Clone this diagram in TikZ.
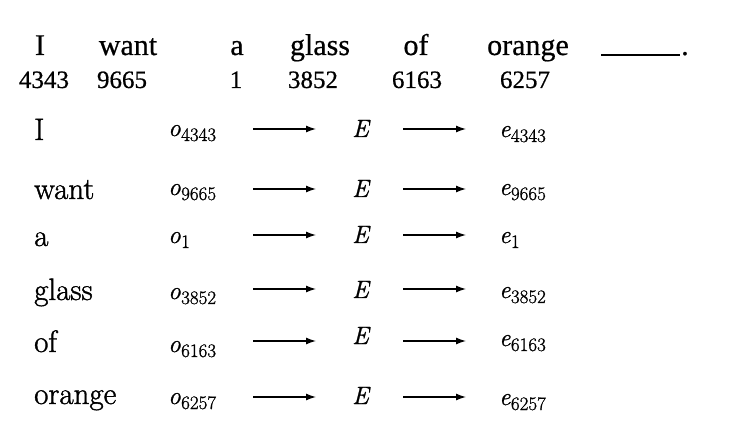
\documentclass[tikz,border=0pt]{standalone}
\usepackage{fontspec}
\newfontfamily\topfont[FakeBold=0.6]{Liberation Serif}
\newfontfamily\wordfont[FakeBold=1.2]{Latin Modern Roman}
\newfontfamily\symfont[FakeBold=1.0]{Latin Modern Roman}
\usetikzlibrary{arrows.meta}
\newcommand{\subn}[1]{\hspace{0.5pt}\raisebox{-5pt}{\fontsize{19}{19}\selectfont\upshape #1}}
\begin{document}
\begin{tikzpicture}[x=1pt,y=-1pt,
  topw/.style={font=\topfont\fontsize{30}{30}\selectfont, anchor=base, inner sep=0pt},
  num/.style={font=\topfont\fontsize{25}{25}\selectfont, anchor=base, inner sep=0pt},
  word/.style={font=\wordfont\fontsize{31}{31}\selectfont, anchor=base west, inner sep=0pt},
  sym/.style={font=\symfont\itshape\fontsize{25}{25}\selectfont, anchor=base west, inner sep=0pt},
  arr/.style={-{Latex[length=10pt,width=7pt]}, line width=1.3pt}]
\useasboundingbox (0,0) rectangle (756,425);
% top sentence
\node[topw] (tw1) at (40,55) {I};
\node[topw] (tw2) at (128,55) {want};
\node[topw] (tw3) at (237,55) {a};
\node[topw] (tw4) at (320,55) {glass};
\node[topw] (tw5) at (416,55) {of};
\node[topw] (tw6) at (528,55) {orange};
\coordinate (bl1) at (601,55);
\coordinate (bl2) at (680,55);
\draw[line width=1.3pt] (bl1) -- (bl2);
\node[topw, anchor=base west] (dot) at (681,55) {.};
\node[num] (n1) at (44,88) {4343};
\node[num] (n2) at (122,88) {9665};
\node[num] (n3) at (236,88) {1};
\node[num] (n4) at (313,88) {3852};
\node[num] (n5) at (417,88) {6163};
\node[num] (n6) at (525,88) {6257};
% rows
\foreach \i/\w/\n/\wy/\oy/\ay/\ey/\eey in {
  1/I/4343/140/136/129/137/137,
  2/want/9665/199/195/189/197/195,
  3/a/1/246/243/235/243/243,
  4/glass/3852/300/299/289/298/298,
  5/of/6163/352/352/341/344/346,
  6/orange/6257/404/404/397/404/405}{
  \node[word] (w\i) at (34,\wy) {\w};
  \node[sym] (o\i) at (168,\oy) {o\subn{\n}};
  \coordinate (a\i s) at (253,\ay);
  \coordinate (a\i e) at (316,\ay);
  \node[sym] (E\i) at (352,\ey) {E};
  \coordinate (b\i s) at (403,\ay);
  \coordinate (b\i e) at (466,\ay);
  \node[sym] (e\i) at (499,\eey) {e\subn{\n}};
  \draw[arr] (a\i s) -- (a\i e);
  \draw[arr] (b\i s) -- (b\i e);
}
\end{tikzpicture}
\end{document}
